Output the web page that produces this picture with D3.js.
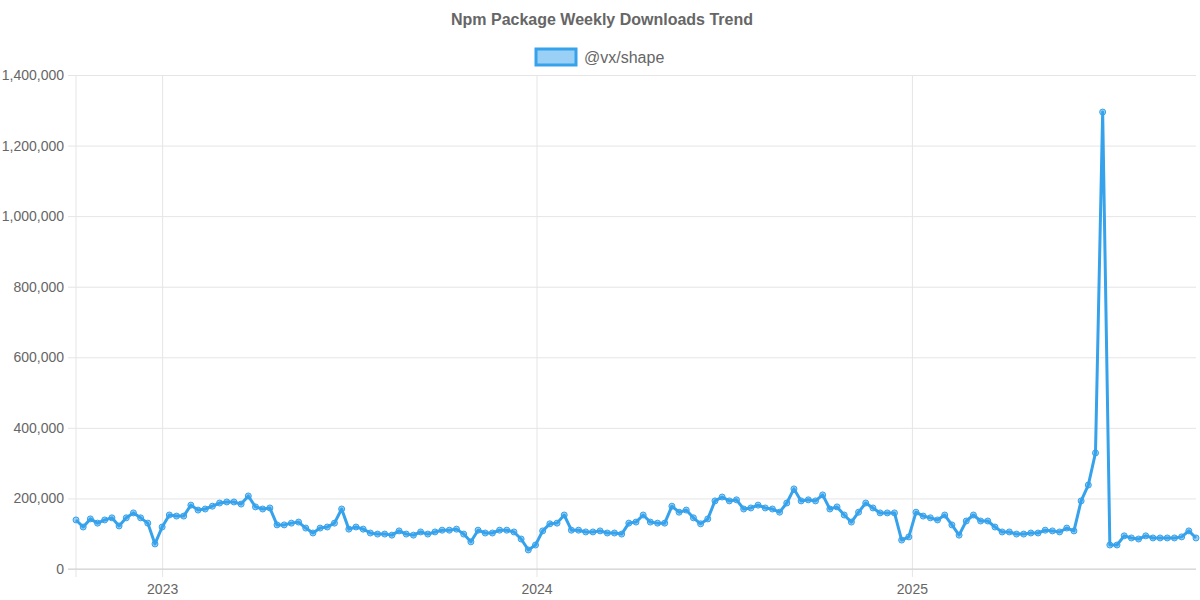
<!DOCTYPE html>
<html>
<head>
<meta charset="utf-8">
<script src="https://cdn.jsdelivr.net/npm/d3@7"></script>
<style>
  body { margin: 0; background: #fff; }
  svg { display: block; font-family: "Liberation Sans", Arial, sans-serif; }
</style>
</head>
<body>
<svg width="1200" height="600"></svg>
<script>
// weekly downloads, first week starts 2022-10-09
const startDate = "2022-10-09";
const downloads = [
  139000, 119000, 142000, 130000, 139000, 145000, 122000, 145000, 159000, 145000,
  130000, 71000, 119000, 153000, 150000, 150000, 181000, 167000, 170000, 178000,
  187000, 190000, 190000, 184000, 207000, 176000, 170000, 173000, 125000, 125000,
  130000, 133000, 116000, 102000, 116000, 119000, 130000, 170000, 113000, 119000,
  113000, 102000, 99000, 99000, 96000, 108000, 99000, 96000, 105000, 99000,
  105000, 110000, 110000, 113000, 99000, 77000, 110000, 102000, 102000, 110000,
  110000, 105000, 85000, 54000, 68000, 108000, 128000, 130000, 153000, 110000,
  110000, 105000, 105000, 108000, 102000, 102000, 99000, 130000, 133000, 153000,
  133000, 130000, 130000, 178000, 161000, 167000, 145000, 128000, 142000, 193000,
  204000, 193000, 196000, 170000, 173000, 181000, 173000, 170000, 161000, 187000,
  227000, 193000, 196000, 193000, 210000, 170000, 176000, 153000, 133000, 161000,
  187000, 173000, 159000, 159000, 159000, 82000, 91000, 161000, 150000, 145000,
  139000, 153000, 125000, 96000, 136000, 153000, 136000, 136000, 119000, 105000,
  105000, 99000, 99000, 102000, 102000, 110000, 108000, 105000, 116000, 108000,
  193000, 238000, 329000, 1295000, 68000, 68000, 94000, 88000, 85000, 94000,
  88000, 88000, 88000, 88000, 91000, 108000, 88000
];
const yTicks = [0, 200000, 400000, 600000, 800000, 1000000, 1200000, 1400000];
const yearTicks = ["2023-01-01", "2024-01-01", "2025-01-01"];
const seriesName = "@vx/shape";
const chartTitle = "Npm Package Weekly Downloads Trend";

const parse = d3.timeParse("%Y-%m-%d");
const t0 = parse(startDate);
const data = downloads.map((v, i) => ({ date: d3.timeDay.offset(t0, i * 7), value: v }));

const svg = d3.select("svg");
const mLeft = 76, mRight = 1196, mTop = 75, mBottom = 569;
const blue = "#36A2EB";

const x = d3.scaleTime()
  .domain(d3.extent(data, d => d.date))
  .range([mLeft, mRight]);
const y = d3.scaleLinear().domain([0, 1400000]).range([mBottom, mTop]);

// horizontal grid + y labels
const yAxis = d3.axisLeft(y).tickValues(yTicks)
  .tickSize(-(mRight - mLeft) - 8).tickPadding(4)
  .tickFormat(d3.format(","));
svg.append("g")
  .attr("transform", `translate(${mLeft - 8},0)`)
  .call(yAxis)
  .call(g => g.select(".domain").remove())
  .call(g => g.selectAll("line").attr("stroke", "#e5e5e5"))
  .call(g => g.selectAll("text").attr("fill", "#666").style("font-size", "14px"));

// vertical grid + year labels
const xAxis = d3.axisBottom(x).tickValues(yearTicks.map(parse))
  .tickSize(-(mBottom - mTop) - 8).tickPadding(7)
  .tickFormat(d3.timeFormat("%Y"));
svg.append("g")
  .attr("transform", `translate(0,${mBottom + 8})`)
  .call(xAxis)
  .call(g => g.select(".domain").remove())
  .call(g => g.selectAll("line").attr("stroke", "#e5e5e5"))
  .call(g => g.selectAll("text").attr("fill", "#666").style("font-size", "14px"));

// axis lines
svg.append("line").attr("x1", mLeft).attr("x2", mLeft).attr("y1", mTop).attr("y2", mBottom + 8)
  .attr("stroke", "#e5e5e5");
svg.append("line").attr("x1", mLeft - 8).attr("x2", mRight).attr("y1", mBottom).attr("y2", mBottom)
  .attr("stroke", "#d0d0d0");

const line = d3.line().x(d => x(d.date)).y(d => y(d.value));
svg.append("path")
  .datum(data)
  .attr("d", line)
  .attr("fill", "none")
  .attr("stroke", blue)
  .attr("stroke-width", 3)
  .attr("stroke-linejoin", "round");

svg.append("g")
  .selectAll("circle")
  .data(data)
  .join("circle")
  .attr("cx", d => x(d.date))
  .attr("cy", d => y(d.value))
  .attr("r", 3)
  .attr("fill", "rgba(54,162,235,0.5)")
  .attr("stroke", blue)
  .attr("stroke-width", 1);

// title
svg.append("text")
  .attr("x", 602).attr("y", 25)
  .attr("text-anchor", "middle")
  .attr("fill", "#666")
  .style("font-size", "16px").style("font-weight", "bold")
  .text(chartTitle);

// legend
svg.append("rect")
  .attr("x", 536).attr("y", 49).attr("width", 40).attr("height", 16)
  .attr("fill", "rgba(54,162,235,0.5)")
  .attr("stroke", blue).attr("stroke-width", 3);
svg.append("text")
  .attr("x", 584).attr("y", 63)
  .attr("fill", "#666")
  .style("font-size", "16px")
  .text(seriesName);
</script>
</body>
</html>
